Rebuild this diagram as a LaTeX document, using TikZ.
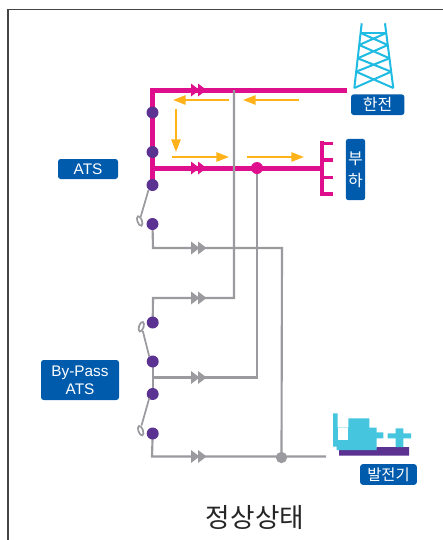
\documentclass[tikz,border=0pt]{standalone}
\usepackage{fontspec}
\setmainfont{Liberation Sans}
\newfontfamily\krfont{Noto Sans CJK KR}
\usetikzlibrary{arrows.meta,backgrounds,calc}
\definecolor{lblblue}{HTML}{005BAC}
\definecolor{busmag}{HTML}{DF0E8C}
\definecolor{dotpur}{HTML}{5B3192}
\definecolor{linegray}{HTML}{9A9A9F}
\definecolor{flowyel}{HTML}{FFB219}
\definecolor{towercy}{HTML}{1FBBE2}
\definecolor{gency}{HTML}{45C6DE}
\definecolor{framegr}{HTML}{444444}
\tikzset{
  x=0.75pt,y=-0.75pt,
  bus/.style={draw=busmag,line width=3.75pt,line cap=butt,line join=miter},
  feed/.style={draw=linegray,line width=1.6pt,line join=miter},
  flow/.style={draw=flowyel,line width=1.3pt,-{Triangle[length=9.5pt,width=7pt]}},
  twr/.style={draw=towercy,line width=1.5pt},
  pdot/.style={circle,fill=dotpur,inner sep=0pt,minimum size=9pt},
  tag/.style={fill=lblblue,rounded corners=2pt,text=white,inner sep=0pt,align=center,anchor=center},
  sw/.style={draw=linegray,line width=1.3pt},
  pics/dbl/.style={code={
    \fill[#1] (-7.5,-6.5) -- (1,0) -- (-7.5,6.5) -- cycle;
    \fill[#1] (-0.5,-6.5) -- (8,0) -- (-0.5,6.5) -- cycle;
  }},
}
\begin{document}
\begin{tikzpicture}
\useasboundingbox (0,0) rectangle (443,540);
% frame
\coordinate (fbl) at (8,540);
\coordinate (ftl) at (8,9.5);
\coordinate (ftr) at (443,9.5);
\draw[framegr,line width=1.1pt] (fbl) -- (ftl) -- (ftr);

% dots
\node[pdot] (a1) at (152.5,112.5) {};
\node[pdot] (a2) at (152.5,152) {};
\node[pdot] (a3) at (152.5,185) {};
\node[pdot] (a4) at (152.5,224) {};
\node[pdot] (b1) at (152.7,322.5) {};
\node[pdot] (b2) at (152.7,361.5) {};
\node[pdot] (b3) at (152.7,394) {};
\node[pdot] (b4) at (152.7,433.5) {};
\node[circle,fill=busmag,inner sep=0pt,minimum size=9pt] (jl) at (257,168) {};
\node[circle,fill=linegray,inner sep=0pt,minimum size=8.5pt] (jg) at (281.5,457.5) {};

% routing points
\coordinate (tc) at (152.5,90);
\coordinate (te) at (347,90);
\coordinate (lm) at (152.5,168);
\coordinate (le) at (321.5,168);
\coordinate (u1) at (234,90);
\coordinate (u2) at (234,298);
\coordinate (u3) at (153,298);
\coordinate (f1) at (153,248);
\coordinate (f2) at (282,248);
\coordinate (m1) at (153,377.5);
\coordinate (m2) at (257,377.5);
\coordinate (g1) at (152,456.5);
\coordinate (g2) at (326,456.5);
\coordinate (lt) at (321.5,141);
\coordinate (lb) at (321.5,196);

\begin{scope}[on background layer]
  % magenta buses
  \draw[bus] (te) -- (tc) -- (a3.center);
  \draw[bus] (lm) -- (le);
  \draw[draw=busmag,line width=3pt] (lt) -- (lb);
  \foreach \yy in {143.5,160,177.5,194}
    \draw[draw=busmag,line width=2.8pt] (320,\yy) -- (333,\yy);
  % gray feeders
  \draw[feed] (u1) -- (u2) -- (u3) -- (b1.center);
  \draw[feed] (a4.center) -- (f1) -- (f2) -- (jg.center);
  \draw[feed] (jl.center) -- (m2) -- (m1);
  \draw[feed] (b2.center) -- (b3.center);
  \draw[feed] (b4.center) -- (g1) -- (g2);
\end{scope}

% double arrowheads
\pic at (198.5,90) {dbl=busmag};
\pic at (198.5,168) {dbl=busmag};
\pic at (198.5,248) {dbl=linegray};
\pic at (198.5,298) {dbl=linegray};
\pic at (198.5,377.5) {dbl=linegray};
\pic at (198.5,456.5) {dbl=linegray};

% yellow flow arrows
\coordinate (y1s) at (299,100); \coordinate (y1e) at (243,100);
\coordinate (y2s) at (229,100); \coordinate (y2e) at (173,100);
\coordinate (y3s) at (176,109); \coordinate (y3e) at (176,152);
\coordinate (y4s) at (172,157); \coordinate (y4e) at (229,157);
\coordinate (y5s) at (247,157); \coordinate (y5e) at (304,157);
\draw[flow] (y1s) -- (y1e);
\draw[flow] (y2s) -- (y2e);
\draw[flow] (y3s) -- (y3e);
\draw[flow] (y4s) -- (y4e);
\draw[flow] (y5s) -- (y5e);

% switches
\draw[sw] (148.5,190) -- (140.7,216.7);
\draw[sw,rotate around={20:(139.7,221)}] (139.7,221) ellipse [x radius=2.3,y radius=5];
\draw[sw] (149.3,356.7) -- (142.8,331);
\draw[sw,rotate around={-18:(141.3,326.7)}] (141.3,326.7) ellipse [x radius=2.3,y radius=5];
\draw[sw] (149.3,398) -- (141.5,425.5);
\draw[sw,rotate around={20:(140.7,430.7)}] (140.7,430.7) ellipse [x radius=2.3,y radius=5];

% tower
\draw[twr] (361.7,23.3) -- (354.3,88.3);
\draw[twr] (385,23.3) -- (393.3,88.3);
\draw[twr] (360.6,33) -- (386.2,33);
\draw[twr] (360.6,33) -- (387.8,45) (386.2,33) -- (359.2,45);
\draw[twr] (359.2,45) -- (389.5,58.3) (387.8,45) -- (357.7,58.3);
\draw[twr] (357.7,58.3) -- (391.2,71.7) (389.5,58.3) -- (356.1,71.7);
\draw[twr] (356.1,71.7) -- (393.3,88) (391.2,71.7) -- (354.3,88);

% generator
\fill[dotpur] (339,450) -- (339,447.5) -- (376.7,447.5) -- (376.7,447) -- (409,447) -- (409,455.5) -- (339,455.5) -- cycle;
\fill[gency] (333,413.3) -- (337.7,413.3) -- (337.7,427.7) -- (348.3,427.7) -- (348.3,418.3) -- (369.3,418.3) -- (369.3,427.7) -- (376.7,427.7) -- (376.7,432.3) -- (383.3,432.3) -- (383.3,438.3) -- (376.7,438.3) -- (376.7,450) -- (336.7,450) -- (336.7,446.7) -- (333,446.7) -- cycle;
\fill[white] (337.7,427.7) rectangle (347.7,440);
\fill[gency] (387.7,433.3) -- (395.7,433.3) -- (395.7,428.3) -- (403.3,428.3) -- (403.3,433.3) -- (411,433.3) -- (411,438.3) -- (403.3,438.3) -- (403.3,447) -- (395.7,447) -- (395.7,438.3) -- (387.7,438.3) -- cycle;

% labels
\node[tag,font=\krfont\fontsize{12pt}{14pt}\selectfont,minimum width=40pt,minimum height=15.5pt] (hj) at (377.7,104.7) {한전};
\node[tag,font=\krfont\fontsize{12pt}{15.5pt}\selectfont,minimum width=14.5pt,minimum height=46pt] (bh) at (355.5,169.5) {부\\[1pt]하};
\node[tag,font=\krfont\fontsize{11.5pt}{13pt}\selectfont,minimum width=42.5pt,minimum height=15.5pt] (gn) at (388.5,474.5) {발전기};
\node[tag,font=\fontsize{11.5pt}{13pt}\selectfont,minimum width=45pt,minimum height=15pt] (at) at (88,169) {ATS};
\node[tag,font=\fontsize{11.5pt}{13.2pt}\selectfont,minimum width=58.5pt,minimum height=30pt] (bp) at (80,380) {By-Pass\\ATS};
\node[text=black!85,inner sep=0pt,font=\krfont\fontsize{20pt}{22pt}\selectfont] (ti) at (255,517.5) {정상상태};
\end{tikzpicture}
\end{document}
